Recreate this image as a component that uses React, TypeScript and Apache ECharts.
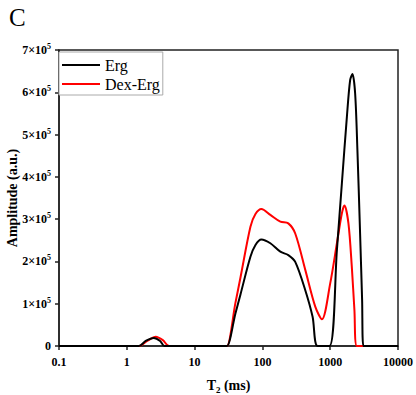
import React, { useEffect, useRef } from "react";
import * as echarts from "echarts";

const FONT = "'Liberation Serif', 'Times New Roman', serif";

const xTicks = [0.1, 1, 10, 100, 1000, 10000];
const yTicks = [0, 100000, 200000, 300000, 400000, 500000, 600000, 700000];

const ergT2 = [0.1, 1.5, 1.9, 2.5, 3.1, 3.6, 28, 30, 40, 47.5, 66.6, 79, 96.6, 131, 184, 241, 305, 429, 550, 650, 977, 1256, 1487, 1762, 1968, 2128, 2333, 2520, 2760, 2956, 3090, 10000];
const ergAmp = [0, 0, 12000, 19000, 12000, 0, 0, 0, 77000, 122000, 211000, 239000, 252000, 243000, 223000, 215000, 199000, 132000, 69000, 0, 0, 227000, 385000, 542000, 629000, 643000, 597000, 463000, 266000, 109000, 0, 0];

const dexT2 = [0.1, 1.5, 2.0, 2.67, 3.4, 4.2, 28, 30, 40, 47.5, 66.6, 79, 96.6, 131, 184, 241, 305, 429, 602, 755, 1000, 1256, 1487, 1623, 1858, 2084, 2276, 2471, 10000];
const dexAmp = [0, 0, 12000, 22000, 14000, 0, 0, 0, 102000, 162000, 282000, 312000, 324000, 310000, 294000, 290000, 266000, 180000, 93000, 63000, 148000, 243000, 314000, 332000, 290000, 187000, 85000, 0, 0];

const seriesNames = ["Erg", "Dex-Erg"];
const seriesColors = ["#000000", "#ff0000"];

export default function App() {
  const ref = useRef<HTMLDivElement>(null);
  useEffect(() => {
    if (!ref.current) return;
    const chart = echarts.init(ref.current, undefined, { renderer: "svg" });
    const bold = { fontFamily: FONT, fontWeight: "bold" as const, color: "#000" };
    chart.setOption({
      animation: false,
      backgroundColor: "#fff",
      graphic: [
        {
          type: "text",
          left: 9,
          top: 5,
          style: { text: "C", fontFamily: FONT, fontSize: 25, fill: "#000" },
        },
      ],
      grid: {
        left: 59,
        right: 18,
        top: 50,
        bottom: 49,
        containLabel: false,
        outerBoundsMode: "none",
        show: true,
        borderColor: "#222",
        borderWidth: 1.5,
      },
      legend: {
        orient: "vertical",
        left: 59,
        top: 52,
        data: seriesNames,
        icon: "rect",
        itemWidth: 38,
        itemHeight: 2,
        itemGap: 3,
        padding: [5, 3, 3, 3],
        borderColor: "#aaa",
        borderWidth: 1,
        backgroundColor: "#fff",
        textStyle: { fontFamily: FONT, fontSize: 16, color: "#000", lineHeight: 16 },
      },
      xAxis: {
        type: "log",
        logBase: 10,
        min: xTicks[0],
        max: xTicks[xTicks.length - 1],
        name: "{a|T}{s|2}{a| (ms)}",
        nameLocation: "middle",
        nameGap: 31,
        nameMoveOverlap: false,
        nameTextStyle: {
          rich: {
            a: { ...bold, fontSize: 14 },
            s: { ...bold, fontSize: 9, padding: [8, 0, 0, 0] },
          },
        },
        axisLine: { lineStyle: { color: "#222", width: 1.5 } },
        axisTick: { show: true, inside: false, length: 4, lineStyle: { color: "#222", width: 1.5 } },
        minorTick: { show: false },
        splitLine: { show: false },
        axisLabel: {
          ...bold,
          fontSize: 12,
          margin: 10,
          formatter: (v: number) => {
            const m = xTicks.find((t) => Math.abs(Math.log10(t) - Math.log10(v)) < 1e-6);
            return m !== undefined ? String(m) : "";
          },
        },
      },
      yAxis: {
        type: "value",
        min: yTicks[0],
        max: yTicks[yTicks.length - 1],
        interval: yTicks[1] - yTicks[0],
        name: "Amplitude (a.u.)",
        nameLocation: "middle",
        nameGap: 40,
        nameMoveOverlap: false,
        nameTextStyle: { ...bold, fontSize: 14 },
        axisLine: { show: true, lineStyle: { color: "#222", width: 1.5 } },
        axisTick: { show: true, inside: false, length: 4, lineStyle: { color: "#222", width: 1.5 } },
        splitLine: { show: false },
        axisLabel: {
          margin: 8,
          formatter: (v: number) => (v === 0 ? "{b|0}" : `{b|${Math.round(v / 1e5)}×10}{s|5}`),
          rich: {
            b: { ...bold, fontSize: 12 },
            s: { ...bold, fontSize: 8, padding: [0, 0, 7, 0] },
          },
        },
      },
      series: [
        {
          name: seriesNames[0],
          type: "line",
          data: ergT2.map((t, i) => [t, ergAmp[i]]),
          smooth: 0.3,
          symbol: "none",
          lineStyle: { color: seriesColors[0], width: 2 },
          itemStyle: { color: seriesColors[0] },
          z: 3,
        },
        {
          name: seriesNames[1],
          type: "line",
          data: dexT2.map((t, i) => [t, dexAmp[i]]),
          smooth: 0.3,
          symbol: "none",
          lineStyle: { color: seriesColors[1], width: 2 },
          itemStyle: { color: seriesColors[1] },
          z: 2,
        },
      ],
    });
    return () => chart.dispose();
  }, []);
  return (
    <div
      ref={ref}
      style={{ position: "fixed", left: 0, top: 0, width: 416, height: 395 }}
    />
  );
}
